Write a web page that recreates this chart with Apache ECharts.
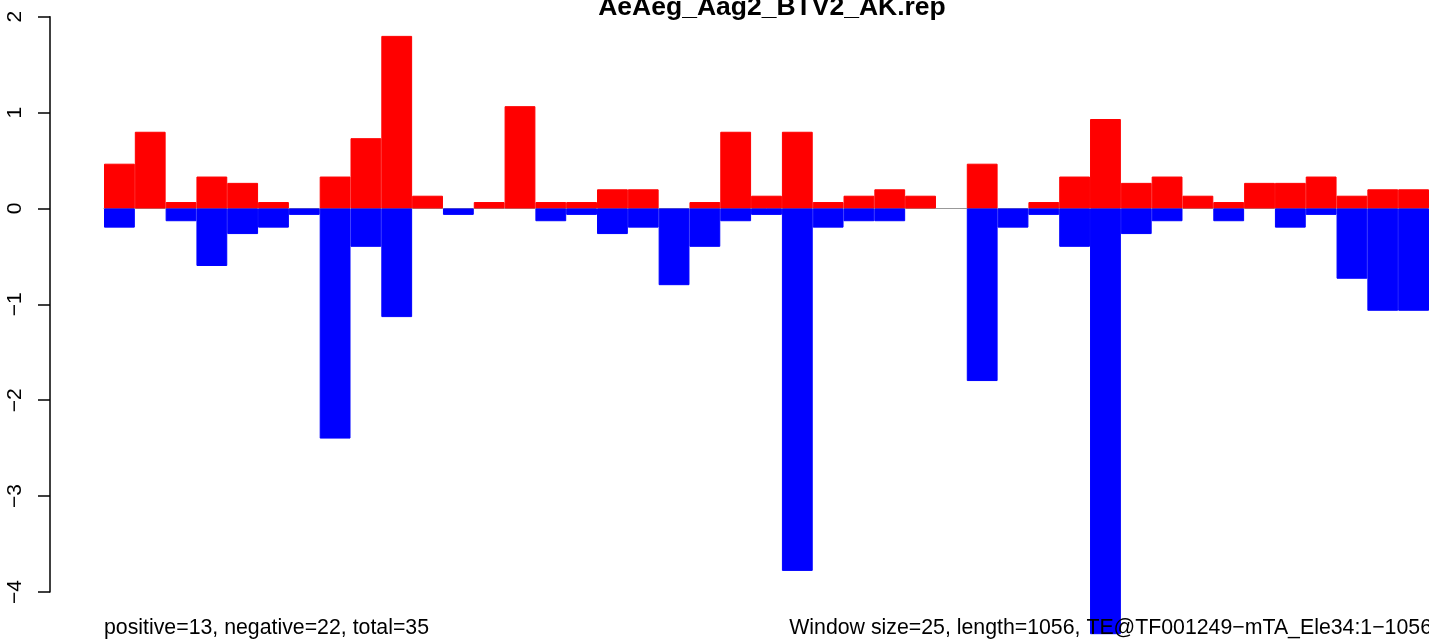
<!DOCTYPE html>
<html>
<head>
<meta charset="utf-8">
<script src="https://cdn.jsdelivr.net/npm/echarts@6/dist/echarts.min.js"></script>
<style>
html,body{margin:0;padding:0;background:#fff;}
#chart{width:1429px;height:641px;}
</style>
</head>
<body>
<div id="chart"></div>
<script>
// window start positions (window size 25, length 1056)
var windows = [0,25,50,75,100,125,150,175,200,225,250,275,300,325,350,375,400,425,450,475,500,525,550,575,600,625,650,675,700,725,750,775,800,825,850,875,900,925,950,975,1000,1025,1050];
// positive-strand values (red)
var positiveValues = [0.467,0.8,0.067,0.333,0.267,0.067,0,0.333,0.733,1.8,0.133,0,0.067,1.067,0.067,0.067,0.2,0.2,0,0.067,0.8,0.133,0.8,0.067,0.133,0.2,0.133,0,0.467,0,0.067,0.333,0.933,0.267,0.333,0.133,0.067,0.267,0.267,0.333,0.133,0.2,0.2];
// negative-strand values (blue)
var negativeValues = [-0.2,0,-0.133,-0.6,-0.267,-0.2,-0.067,-2.4,-0.4,-1.133,0,-0.067,0,0,-0.133,-0.067,-0.267,-0.2,-0.8,-0.4,-0.133,-0.067,-3.78,-0.2,-0.133,-0.133,0,0,-1.8,-0.2,-0.067,-0.4,-4.44,-0.267,-0.133,0,-0.133,0,-0.2,-0.067,-0.733,-1.067,-1.067];
// y tick values and labels
var yTickValues = [-4,-3,-2,-1,0,1,2];
var yTickLabels = ['\u22124','\u22123','\u22122','\u22121','0','1','2'];

var titleText = 'AeAeg_Aag2_BTV2_AK.rep';
var leftNote = 'positive=13, negative=22, total=35';
var rightNote = 'Window size=25, length=1056, TE@TF001249\u2212mTA_Ele34:1\u22121056';

// empty windows draw nothing
function toBarData(arr) {
  return arr.map(function (v) { return v === 0 ? '-' : v; });
}

var FONT = '"Liberation Sans", Arial, Helvetica, sans-serif';
var chart = echarts.init(document.getElementById('chart'), null, {renderer:'canvas'});
chart.setOption({
  animation: false,
  backgroundColor: '#ffffff',
  title: {
    text: titleText,
    left: 767,
    textAlign: 'center',
    top: -11,
    textStyle: {fontFamily: FONT, fontWeight: 'bold', fontSize: 26.5, color: '#000'}
  },
  grid: {left: 104, right: -2, top: 16.7, bottom: 49, containLabel: false},
  xAxis: {
    type: 'category',
    data: windows,
    boundaryGap: true,
    axisLine: {show: true, onZero: true, lineStyle: {color: '#999999', width: 1}},
    axisTick: {show: false},
    axisLabel: {show: false},
    splitLine: {show: false}
  },
  yAxis: {
    type: 'value',
    min: yTickValues[0],
    max: yTickValues[yTickValues.length - 1],
    interval: 1,
    offset: 54,
    axisLine: {show: true, lineStyle: {color: '#000', width: 1.5}},
    axisTick: {show: true, inside: false, length: 12, lineStyle: {color: '#000', width: 1.5}},
    splitLine: {show: false},
    axisLabel: {
      rotate: 90,
      margin: 24,
      fontFamily: FONT,
      fontSize: 21,
      color: '#000',
      formatter: function (v) {
        var i = yTickValues.indexOf(v);
        return i >= 0 ? yTickLabels[i] : '';
      }
    }
  },
  series: [
    {
      name: 'positive', type: 'bar', data: toBarData(positiveValues),
      barCategoryGap: 0, barGap: '-100%',
      itemStyle: {color: '#ff0000', borderColor: '#ff0000', borderWidth: 1}, clip: false, z: 3
    },
    {
      name: 'negative', type: 'bar', data: toBarData(negativeValues),
      barCategoryGap: 0, barGap: '-100%',
      itemStyle: {color: '#0000ff', borderColor: '#0000ff', borderWidth: 1}, clip: false, z: 3
    }
  ],
  graphic: [
    {type: 'text', z: 100, left: 104, top: 618, style: {text: leftNote, font: '21.3px ' + FONT, fill: '#000'}},
    {type: 'text', z: 100, right: -3, top: 618, style: {text: rightNote, font: '21.3px ' + FONT, fill: '#000'}}
  ]
});
</script>
</body>
</html>
